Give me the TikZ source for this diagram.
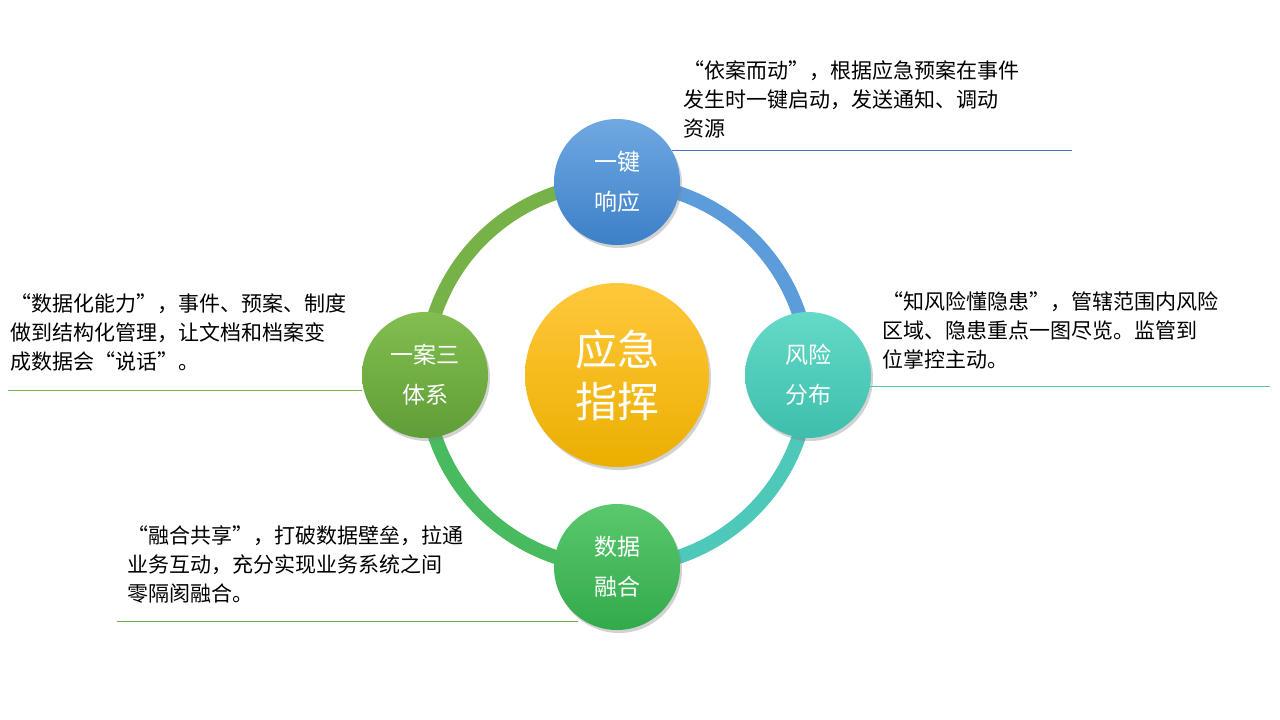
\documentclass[tikz,border=0pt]{standalone}
\usepackage{fontspec}
\setmainfont{Noto Sans CJK SC}
\usetikzlibrary{shadows}
\begin{document}
\begin{tikzpicture}[x=1pt,y=-1pt,
  bub/.style={circle,minimum size=126pt,inner sep=0pt,text=white,font=\fontsize{23}{46}\selectfont,align=center,drop shadow={opacity=0.35,shadow xshift=2pt,shadow yshift=-3pt}},
  desc/.style={anchor=north west,align=left,inner sep=0pt,font=\fontsize{21}{29}\selectfont,text=black},
  ring/.style={line width=14pt}]
\useasboundingbox (0,0) rectangle (1280,720);
\fill[white] (0,0) rectangle (1280,720);
\coordinate (c) at (617,375);
% ring arcs
\draw[ring,color={rgb,255:red,92;green,156;blue,218}] (617,183) arc[start angle=-90,end angle=0,radius=192];
\draw[ring,color={rgb,255:red,78;green,200;blue,185}] (809,375) arc[start angle=0,end angle=90,radius=192];
\draw[ring,color={rgb,255:red,72;green,187;blue,96}] (617,567) arc[start angle=90,end angle=180,radius=192];
\draw[ring,color={rgb,255:red,118;green,178;blue,72}] (425,375) arc[start angle=180,end angle=270,radius=192];
% bubbles
\node[bub,top color={rgb,255:red,112;green,168;blue,226},bottom color={rgb,255:red,60;green,128;blue,200}] (top) at (617,182) {一键\\[-6pt]响应};
\node[bub,top color={rgb,255:red,100;green,218;blue,200},bottom color={rgb,255:red,62;green,190;blue,172}] (right) at (808,375) {风险\\[-6pt]分布};
\node[bub,top color={rgb,255:red,90;green,200;blue,110},bottom color={rgb,255:red,50;green,170;blue,75}] (bot) at (617,567) {数据\\[-6pt]融合};
\node[bub,top color={rgb,255:red,130;green,190;blue,80},bottom color={rgb,255:red,95;green,158;blue,55}] (left) at (425,375) {一案三\\[-6pt]体系};
\node[bub,minimum size=184pt,font=\fontsize{42}{52}\selectfont,top color={rgb,255:red,255;green,200;blue,60},bottom color={rgb,255:red,235;green,175;blue,0}] (center) at (617,375) {应急\\指挥};
% descriptions
\node[desc] (t1) at (683,60) {“依案而动”，根据应急预案在事件\\发生时一键启动，发送通知、调动\\资源};
\coordinate (l1a) at (672,150); \coordinate (l1b) at (1072,150);
\draw[color={rgb,255:red,68;green,114;blue,196}] (l1a) -- (l1b);
\node[desc] (t2) at (882,292) {“知风险懂隐患”，管辖范围内风险\\区域、隐患重点一图尽览。监管到\\位掌控主动。};
\coordinate (l2a) at (870,386); \coordinate (l2b) at (1270,386);
\draw[color={rgb,255:red,78;green,200;blue,185}] (l2a) -- (l2b);
\node[desc] (t3) at (10,294) {“数据化能力”，事件、预案、制度\\做到结构化管理，让文档和档案变\\成数据会“说话”。};
\coordinate (l3a) at (8,390); \coordinate (l3b) at (362,390);
\draw[color={rgb,255:red,118;green,178;blue,72}] (l3a) -- (l3b);
\node[desc] (t4) at (127,526) {“融合共享”，打破数据壁垒，拉通\\业务互动，充分实现业务系统之间\\零隔阂融合。};
\coordinate (l4a) at (117,621); \coordinate (l4b) at (578,621);
\draw[color={rgb,255:red,112;green,173;blue,71}] (l4a) -- (l4b);
\end{tikzpicture}
\end{document}
